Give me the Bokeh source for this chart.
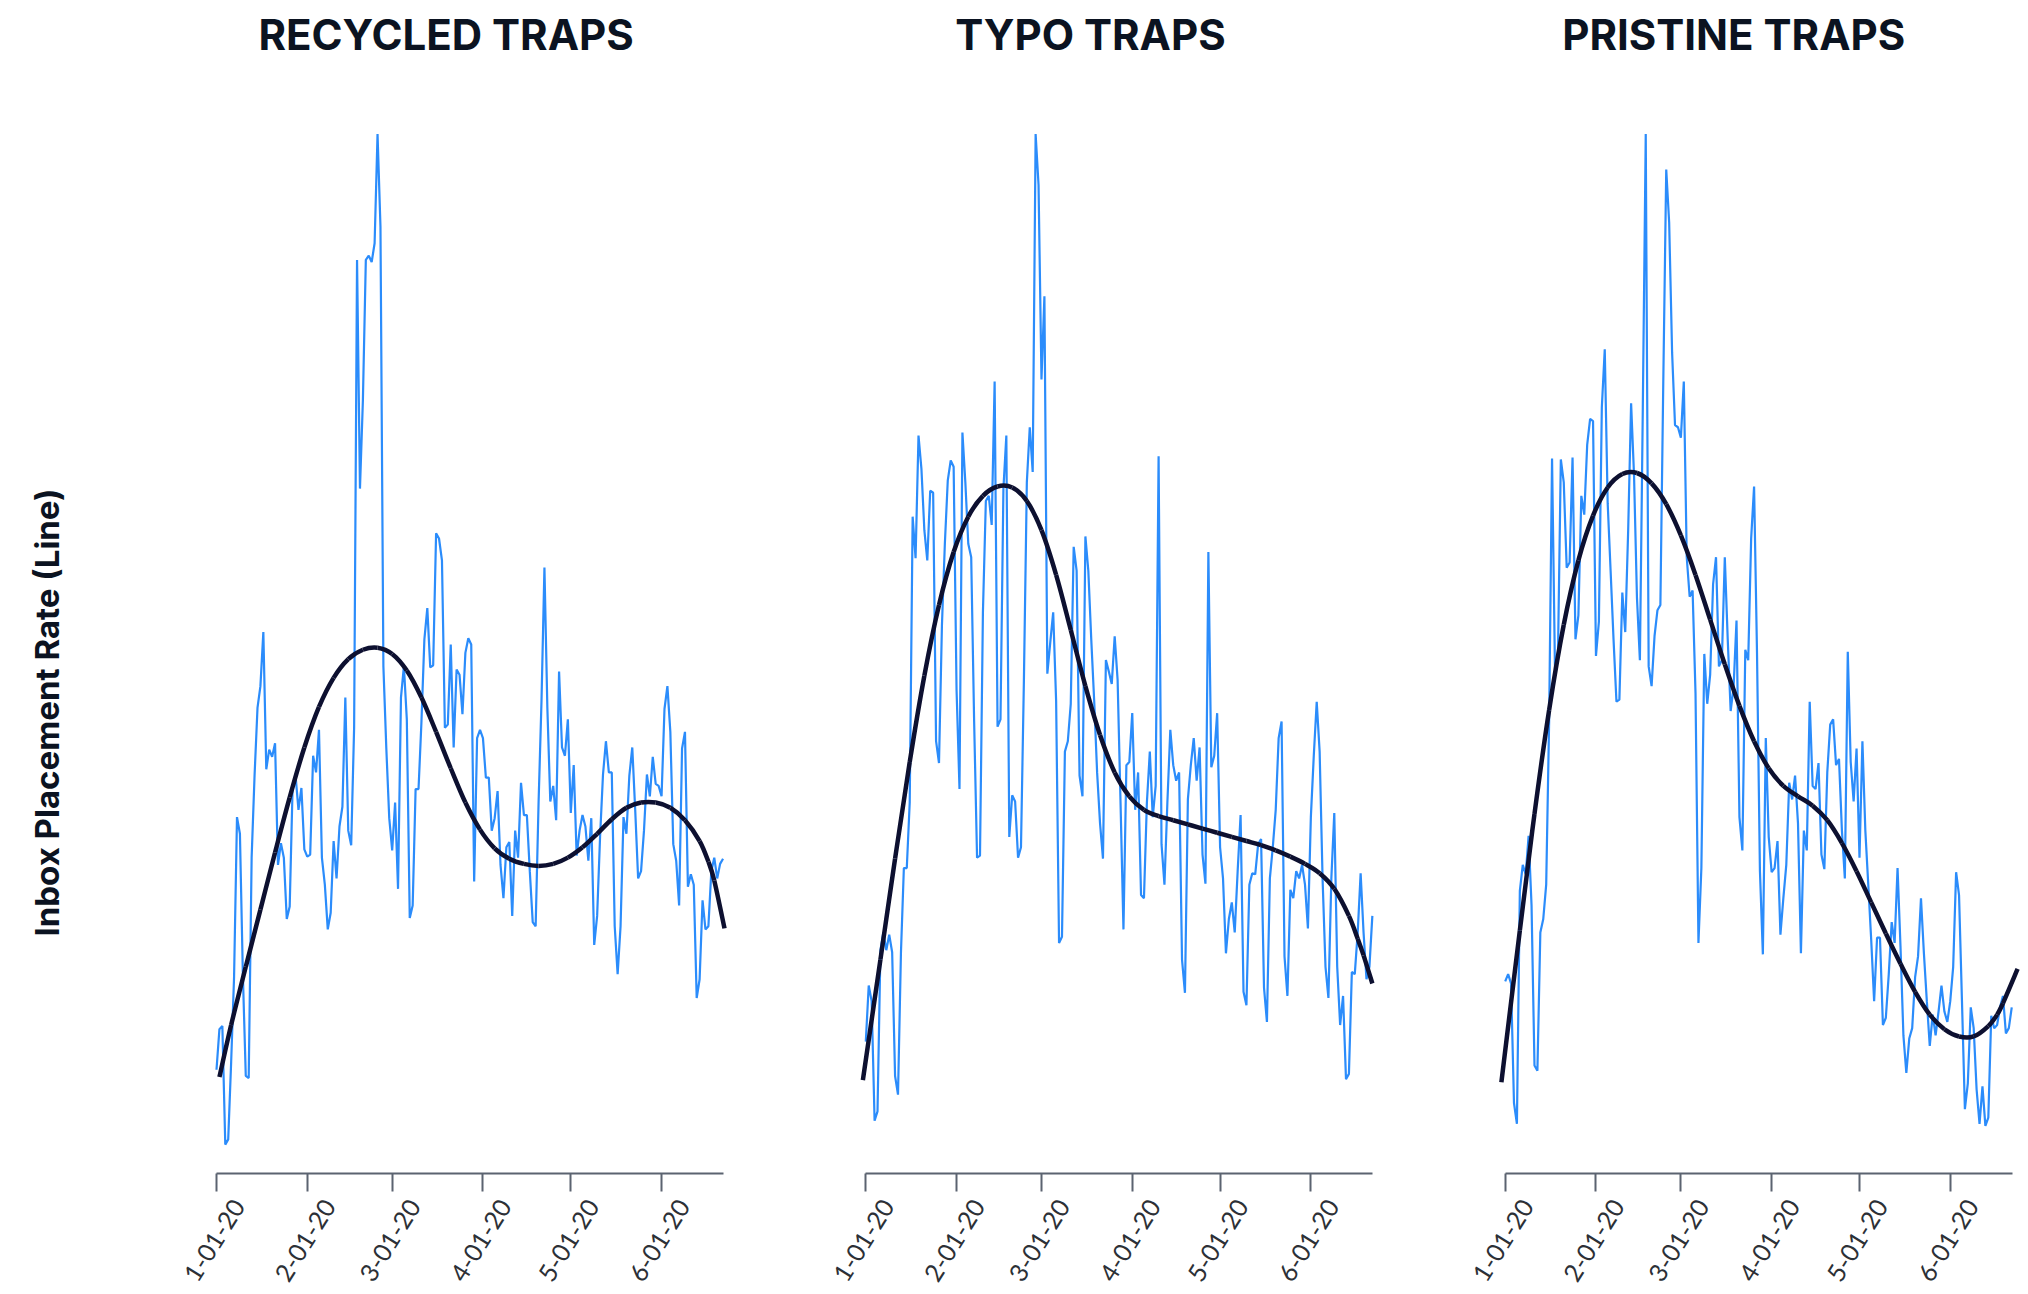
import math
import pandas as pd
from bokeh.plotting import figure
from bokeh.layouts import row
from bokeh.models import Range1d, FixedTicker, Label
from bokeh.embed import file_html
from bokeh.resources import INLINE

# ---------------- data ----------------
start = pd.Timestamp("2020-01-01")
dates = pd.date_range(start, "2020-06-22", freq="D")
x_days = [(d - start).days for d in dates]

tick_dates = pd.to_datetime(["2020-01-01", "2020-02-01", "2020-03-01",
                             "2020-04-01", "2020-05-01", "2020-06-01"])
tick_labels = ["1-01-20", "2-01-20", "3-01-20", "4-01-20", "5-01-20", "6-01-20"]
tick_days = [(d - start).days for d in tick_dates]

titles = ["RECYCLED TRAPS", "TYPO TRAPS", "PRISTINE TRAPS"]
y_label = "Inbox Placement Rate (Line)"

recycled = [
    10.0, 13.9, 14.2, 2.8, 3.3, 10.7, 18.9, 34.3, 32.7, 19.2,
    9.4, 9.2, 30.4, 38.3, 44.8, 46.9, 52.1, 38.9, 40.8, 40.1,
    41.4, 29.7, 31.8, 30.4, 24.5, 25.7, 37.3, 38.3, 35.0, 37.1,
    31.2, 30.5, 30.7, 40.2, 38.6, 42.7, 30.4, 27.8, 23.5, 25.1,
    32.0, 28.4, 33.4, 35.3, 45.8, 33.0, 31.6, 42.9, 87.9, 65.9,
    74.4, 87.9, 88.3, 87.7, 89.5, 100.0, 91.1, 48.8, 40.9, 34.2,
    31.1, 35.7, 27.4, 45.8, 48.8, 43.7, 24.6, 25.8, 37.0, 37.0,
    43.5, 51.4, 54.4, 48.7, 48.9, 61.6, 61.1, 59.0, 42.9, 43.2,
    50.9, 41.0, 48.5, 48.0, 44.2, 50.1, 51.5, 50.9, 28.1, 41.9,
    42.7, 41.9, 38.1, 38.1, 33.0, 34.2, 36.8, 29.7, 26.5, 31.4,
    31.9, 24.8, 33.0, 30.4, 37.6, 34.5, 34.5, 29.1, 24.2, 23.8,
    35.7, 45.5, 58.3, 44.8, 35.8, 37.3, 34.0, 48.3, 41.0, 40.2,
    43.7, 34.7, 39.3, 30.6, 33.0, 34.5, 33.4, 30.1, 34.2, 22.0,
    24.8, 32.4, 38.4, 41.6, 38.6, 38.6, 23.8, 19.2, 23.8, 34.3,
    32.7, 38.3, 41.0, 35.0, 28.4, 29.1, 33.0, 38.4, 36.3, 40.1,
    37.5, 37.3, 36.3, 44.7, 46.9, 42.5, 31.7, 30.1, 25.8, 40.9,
    42.5, 27.6, 28.8, 27.8, 16.9, 18.7, 26.3, 23.5, 23.8, 29.1,
    30.4, 28.4, 29.8, 30.3,
]

typo = [
    12.7, 18.1, 16.6, 5.1, 6.0, 21.5, 23.2, 21.5, 23.0, 21.3,
    9.4, 7.6, 21.2, 29.4, 29.4, 35.7, 63.2, 59.2, 71.0, 67.8,
    61.9, 59.0, 65.7, 65.5, 41.6, 39.5, 52.7, 60.6, 66.7, 68.6,
    68.0, 46.5, 37.0, 71.3, 66.5, 60.6, 59.3, 43.5, 30.4, 30.6,
    54.0, 64.7, 65.2, 62.4, 76.2, 43.0, 43.7, 65.9, 71.0, 32.4,
    36.4, 35.8, 30.4, 31.4, 47.5, 66.5, 71.8, 67.5, 100.0, 95.1,
    76.4, 84.4, 48.1, 51.1, 54.0, 45.5, 22.2, 22.8, 40.6, 41.6,
    45.2, 60.3, 58.0, 38.3, 36.3, 61.3, 58.0, 51.4, 45.5, 38.6,
    33.7, 30.3, 49.4, 48.3, 47.1, 51.7, 47.5, 35.7, 23.5, 39.3,
    39.6, 44.3, 35.0, 38.6, 26.8, 26.5, 35.7, 40.6, 34.3, 37.3,
    69.0, 31.7, 27.8, 35.7, 42.7, 39.3, 37.8, 38.6, 20.6, 17.4,
    36.0, 39.3, 41.9, 37.8, 41.0, 30.7, 27.9, 59.8, 39.1, 40.2,
    44.3, 31.4, 28.4, 21.2, 24.5, 26.1, 23.2, 29.1, 34.5, 17.5,
    16.2, 27.8, 28.9, 28.8, 31.7, 32.2, 17.9, 14.6, 28.4, 31.4,
    35.0, 41.9, 43.5, 20.9, 17.1, 27.3, 26.5, 29.1, 28.4, 29.7,
    27.8, 23.6, 34.3, 40.2, 45.4, 40.6, 28.4, 19.9, 16.9, 28.4,
    34.7, 19.9, 14.3, 17.1, 9.1, 9.6, 19.4, 19.2, 23.2, 28.9,
    23.2, 18.7, 19.9, 24.8,
]

pristine = [
    18.5, 19.2, 18.3, 6.8, 4.8, 27.2, 29.7, 28.8, 32.5, 25.8,
    10.4, 9.9, 23.2, 24.5, 27.8, 43.5, 68.8, 48.5, 49.4, 68.7,
    66.5, 58.3, 58.8, 68.9, 51.4, 53.7, 65.2, 63.4, 70.1, 72.6,
    72.4, 49.8, 53.1, 73.7, 79.3, 64.5, 58.0, 51.4, 45.4, 45.6,
    55.9, 52.1, 61.9, 74.1, 67.2, 55.4, 49.4, 73.7, 100.0, 48.8,
    46.9, 51.7, 54.2, 54.7, 76.4, 96.6, 91.5, 79.0, 72.0, 71.8,
    70.8, 76.2, 59.3, 55.5, 56.1, 46.2, 22.2, 29.4, 50.0, 45.2,
    48.0, 56.7, 59.3, 48.8, 49.4, 59.3, 51.4, 44.5, 46.8, 53.2,
    34.3, 31.1, 50.4, 49.4, 61.1, 66.1, 50.1, 29.1, 21.1, 41.9,
    32.4, 29.0, 29.4, 32.0, 23.0, 26.5, 29.7, 37.6, 36.0, 38.3,
    33.7, 21.2, 33.0, 31.1, 45.4, 37.3, 37.0, 39.5, 30.7, 29.3,
    38.6, 43.2, 43.7, 39.3, 39.9, 33.0, 28.4, 50.2, 39.6, 35.8,
    40.9, 30.4, 41.6, 33.0, 27.8, 22.5, 16.6, 22.7, 22.7, 14.3,
    15.0, 19.2, 24.2, 22.2, 29.4, 21.9, 13.3, 9.7, 13.0, 14.0,
    18.9, 20.9, 26.5, 21.2, 16.6, 12.3, 15.3, 13.3, 15.6, 18.1,
    15.6, 14.6, 16.6, 19.9, 29.0, 26.8, 16.6, 6.2, 8.7, 16.0,
    14.0, 8.1, 4.8, 8.4, 4.6, 5.4, 15.2, 14.0, 14.3, 16.0,
    17.1, 13.5, 14.0, 16.0,
]

# smooth trend lines, read at these days
recycled_trend_days = [1, 5, 10, 15, 20, 25, 30, 35, 40, 45, 50, 55, 60, 65, 70, 75, 80,
                       85, 90, 95, 100, 105, 110, 115, 120, 125, 130, 135, 140, 145, 150,
                       155, 160, 165, 168, 170, 173.5]
recycled_trend = [9.3, 14.3, 19.9, 25.4, 30.9, 36.2, 41.0, 44.9, 47.7, 49.5, 50.4, 50.6,
                  50.0, 48.4, 45.8, 42.5, 39.0, 35.7, 33.1, 31.3, 30.3, 29.8, 29.6, 29.8,
                  30.4, 31.4, 32.7, 34.1, 35.2, 35.7, 35.7, 35.2, 34.0, 32.0, 30.0, 28.2,
                  23.6]

typo_trend_days = [-1, 5, 10, 15, 20, 25, 30, 35, 40, 45, 50, 55, 60, 65, 70, 75, 80,
                   85, 90, 95, 100, 105, 110, 115, 120, 125, 130, 135, 140, 145, 150,
                   155, 160, 165, 168, 170, 173]
typo_trend = [9.0, 20.6, 30.3, 39.6, 47.9, 54.7, 59.8, 63.2, 65.2, 66.1, 66.0, 64.7,
              61.9, 57.6, 52.3, 46.9, 42.2, 38.6, 36.3, 35.0, 34.4, 34.0, 33.6, 33.2,
              32.8, 32.4, 32.0, 31.6, 31.1, 30.5, 29.8, 28.9, 27.4, 24.8, 22.6, 21.0,
              18.3]

pristine_trend_days = [-1.3, 5, 10, 15, 20, 25, 30, 35, 40, 45, 50, 55, 60, 65, 70, 75,
                       80, 85, 90, 95, 100, 105, 110, 115, 120, 125, 130, 135, 140, 145,
                       150, 155, 160, 165, 168, 170, 175]
pristine_trend = [8.8, 23.4, 34.6, 44.6, 52.8, 59.0, 63.3, 66.0, 67.3, 67.4, 66.4, 64.4,
                  61.4, 57.6, 53.3, 49.0, 45.0, 41.6, 39.0, 37.3, 36.3, 35.4, 34.0, 31.8,
                  29.1, 26.1, 23.1, 20.2, 17.5, 15.3, 13.9, 13.2, 13.2, 14.2, 15.3, 16.4,
                  19.7]

series = [recycled, typo, pristine]
trend_x = [recycled_trend_days, typo_trend_days, pristine_trend_days]
trends = [recycled_trend, typo_trend, pristine_trend]


def smooth_segments(xs, ys):
    """Catmull-Rom curve through the read trend points, as cubic Bezier pieces."""
    n = len(xs)
    seg = dict(x0=[], y0=[], x1=[], y1=[], cx0=[], cy0=[], cx1=[], cy1=[])
    for k in range(n - 1):
        a = max(k - 1, 0)
        d = min(k + 2, n - 1)
        seg["x0"].append(xs[k]); seg["y0"].append(ys[k])
        seg["x1"].append(xs[k + 1]); seg["y1"].append(ys[k + 1])
        seg["cx0"].append(xs[k] + (xs[k + 1] - xs[a]) / 6.0)
        seg["cy0"].append(ys[k] + (ys[k + 1] - ys[a]) / 6.0)
        seg["cx1"].append(xs[k + 1] - (xs[d] - xs[k]) / 6.0)
        seg["cy1"].append(ys[k + 1] - (ys[d] - ys[k]) / 6.0)
    return seg


# ---------------- style / layout ----------------
BLUE = "#2b8cfb"
NAVY = "#0d1030"
TITLE_COL = "#0b1321"
AXIS_COL = "#5b6370"
LABEL_COL = "#2c3036"

PX_PER_DAY = 2.928
PX_PER_UNIT = 10.396
FIG_H = 1290
AXIS_Y = 1173.2            # page y of value 0
fig_left = [0, 790, 1440]  # page x of figure left edges
fig_widths = [790, 650, 584]
day0_x = [216.0, 865.3, 1504.7]  # page x of day 0 in each panel
title_center_px = [229.6, 224.7, 228.5]  # measured from day-0 position
X_AXIS_END = 173.2

figs = []
for i in range(3):
    x0 = fig_left[i]
    xs = -(day0_x[i] - x0) / PX_PER_DAY
    xe = (x0 + fig_widths[i] - day0_x[i]) / PX_PER_DAY
    ys = -(FIG_H - AXIS_Y) / PX_PER_UNIT
    ye = AXIS_Y / PX_PER_UNIT
    p = figure(width=fig_widths[i], height=FIG_H, output_backend="svg",
               toolbar_location=None,
               x_range=Range1d(xs, xe), y_range=Range1d(ys, ye),
               min_border=0)
    p.title.visible = False
    p.outline_line_color = None
    p.background_fill_color = "white"
    p.border_fill_color = "white"
    p.xgrid.visible = False
    p.ygrid.visible = False
    p.yaxis.visible = False

    ax = p.xaxis[0]
    ax.fixed_location = 0
    ax.bounds = (0, X_AXIS_END)
    ax.ticker = FixedTicker(ticks=tick_days)
    ax.axis_line_color = AXIS_COL
    ax.axis_line_width = 2
    ax.major_tick_line_color = AXIS_COL
    ax.major_tick_line_width = 2
    ax.major_tick_out = 18
    ax.major_tick_in = 0
    ax.minor_tick_line_color = None
    ax.major_label_text_color = None

    p.line(x_days, series[i], line_color=BLUE, line_width=2.2)
    seg = smooth_segments(trend_x[i], trends[i])
    p.bezier(x0=seg["x0"], y0=seg["y0"], x1=seg["x1"], y1=seg["y1"],
             cx0=seg["cx0"], cy0=seg["cy0"], cx1=seg["cx1"], cy1=seg["cy1"],
             line_color=NAVY, line_width=4.5, line_cap="butt")

    for t, lab in zip(tick_days, tick_labels):
        p.add_layout(Label(x=t, y=0, x_offset=22, y_offset=-28, text=lab,
                           angle=math.radians(58), text_align="right",
                           text_baseline="middle",
                           text_font="Lato", text_font_size="25px",
                           text_color=LABEL_COL))

    p.add_layout(Label(x=title_center_px[i] / PX_PER_DAY,
                       y=(AXIS_Y - 34) / PX_PER_UNIT, text=titles[i],
                       text_align="center", text_baseline="alphabetic",
                       text_font="Inter", text_font_style="bold",
                       text_font_size="42px", text_color=TITLE_COL))

    if i == 0:
        p.add_layout(Label(x=(46 - day0_x[0]) / PX_PER_DAY,
                           y=(AXIS_Y - 712) / PX_PER_UNIT, text=y_label,
                           angle=math.pi / 2, text_align="center",
                           text_baseline="middle", text_font="Inter",
                           text_font_style="bold", text_font_size="33px",
                           text_color=TITLE_COL))
    figs.append(p)

layout = row(*figs, spacing=0)
open("out.html", "w").write(file_html(layout, INLINE))
